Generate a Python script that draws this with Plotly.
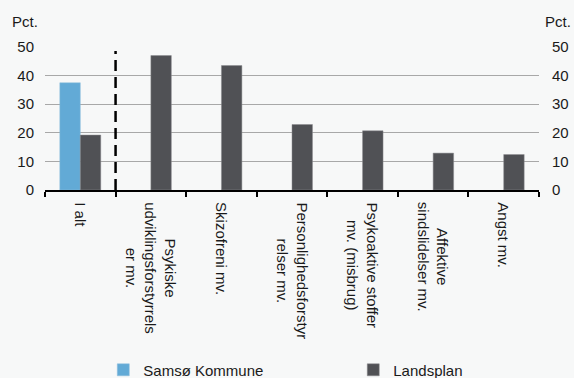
import plotly.graph_objects as go

categories = [
    "I alt",
    "Psykiske<br>udviklingsforstyrrels<br>er mv.",
    "Skizofreni mv.",
    "Personlighedsforstyr<br>relser mv.",
    "Psykoaktive stoffer<br>mv. (misbrug)",
    "Affektive<br>sindslidelser mv.",
    "Angst mv.",
]
samsoe = [37.5, None, None, None, None, None, None]
landsplan = [19.2, 47.0, 43.5, 22.9, 20.7, 12.9, 12.4]
y_ticks = [0, 10, 20, 30, 40, 50]

BG = "#f7f8f8"
FONT = "Liberation Sans, Arial, sans-serif"
TXT = "#1a1a1a"
FS = 15

fig = go.Figure()
fig.add_trace(go.Bar(x=categories, y=samsoe, name="Samsø Kommune", legend="legend",
                     marker=dict(color="#62aad6", line=dict(color="#8fbfdc", width=0.5))))
fig.add_trace(go.Bar(x=categories, y=landsplan, name="Landsplan", legend="legend2",
                     marker=dict(color="#505155", line=dict(color="#8a8b8e", width=0.5))))
fig.add_trace(go.Scatter(x=categories, y=landsplan, yaxis="y2", mode="none",
                         showlegend=False, hoverinfo="skip"))

fig.add_shape(type="line", xref="x", yref="y", x0=0.5, x1=0.5, y0=0, y1=48.6,
              line=dict(color="black", width=2.5, dash="11px,6px"))

# category labels drawn as rotated, centred annotations on the x scale
for c in categories:
    fig.add_annotation(x=c, xref="x", y=-0.07, yref="paper", text=c, textangle=90,
                       xanchor="center", yanchor="top", align="center", showarrow=False,
                       font=dict(size=FS, color=TXT))

leg_common = dict(orientation="h", yref="container", y=0.021, yanchor="middle",
                  xanchor="left", font=dict(size=FS, color=TXT),
                  bgcolor="rgba(0,0,0,0)", itemwidth=30)

fig.update_layout(
    width=574, height=378,
    margin=dict(l=45, r=35, t=47, b=188, autoexpand=False),
    paper_bgcolor=BG, plot_bgcolor=BG,
    font=dict(family=FONT, size=FS, color=TXT),
    barmode="group", bargap=0.42, bargroupgap=0,
    showlegend=True,
    legend=dict(x=0.118, **leg_common),
    legend2=dict(x=0.624, **leg_common),
    xaxis=dict(showticklabels=False, showline=True, linecolor="black", linewidth=2,
               ticks="outside", tickson="boundaries", ticklen=5, tickwidth=2,
               tickcolor="black", showgrid=False, automargin=False),
    yaxis=dict(range=[0, 50], tickvals=y_ticks, showgrid=True, gridcolor="#a8a8a8",
               gridwidth=1, zeroline=False, ticks="", ticklabelstandoff=10,
               automargin=False),
    yaxis2=dict(range=[0, 50], tickvals=y_ticks, overlaying="y", side="right",
                showgrid=False, zeroline=False, ticks="", ticklabelstandoff=12,
                automargin=False),
)
fig.add_annotation(text="Pct.", xref="paper", yref="paper", x=-0.07, y=1.18,
                   xanchor="left", yanchor="middle", showarrow=False,
                   font=dict(size=FS, color=TXT))
fig.add_annotation(text="Pct.", xref="paper", yref="paper", x=1.0688, y=1.18,
                   xanchor="right", yanchor="middle", showarrow=False,
                   font=dict(size=FS, color=TXT))

fig.write_html("out.html", config={"displayModeBar": False})

# remove the browser's default page margin so the chart fills the window
with open("out.html", encoding="utf-8") as f:
    html = f.read()
html = html.replace("<head>", "<head><style>html,body{margin:0;padding:0;overflow:hidden;background:%s}</style>" % BG, 1)
with open("out.html", "w", encoding="utf-8") as f:
    f.write(html)
